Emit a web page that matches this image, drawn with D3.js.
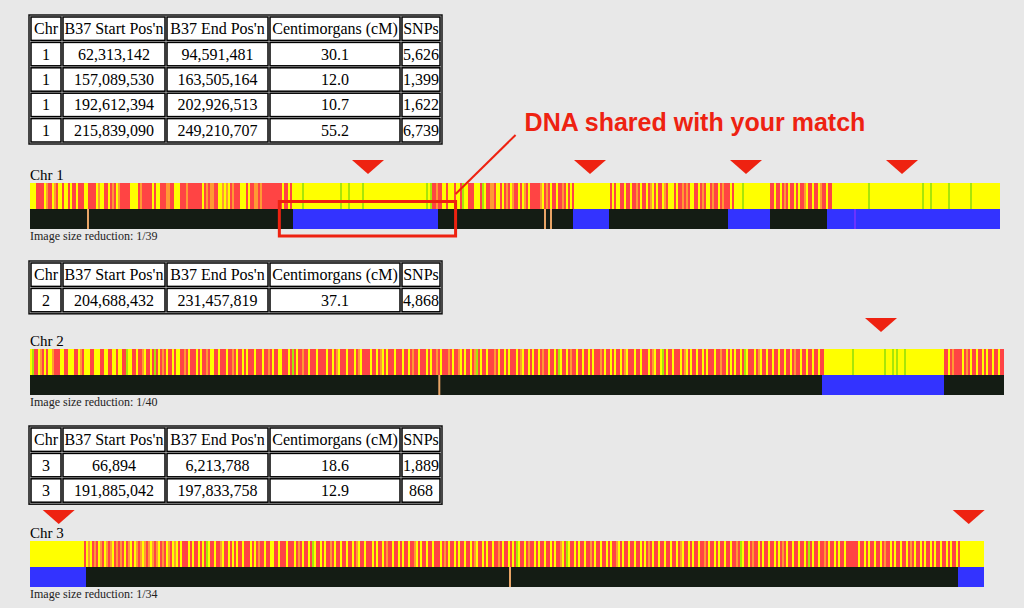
<!DOCTYPE html>
<html>
<head>
<meta charset="utf-8">
<script src="https://cdn.jsdelivr.net/npm/d3@7"></script>
<style>
	body { margin: 0; background: #e8e8e8; }
	svg { display: block; }
</style>
</head>
<body>
<div id="vis"></div>
<script>
// table text
const HEADER = ["Chr", "B37 Start Pos'n", "B37 End Pos'n", "Centimorgans (cM)", "SNPs"];
const CHR1_ROWS = [
	["1", "62,313,142", "94,591,481", "30.1", "5,626"],
	["1", "157,089,530", "163,505,164", "12.0", "1,399"],
	["1", "192,612,394", "202,926,513", "10.7", "1,622"],
	["1", "215,839,090", "249,210,707", "55.2", "6,739"]
];
const CHR2_ROWS = [
	["2", "204,688,432", "231,457,819", "37.1", "4,868"]
];
const CHR3_ROWS = [
	["3", "66,894", "6,213,788", "18.6", "1,889"],
	["3", "191,885,042", "197,833,758", "12.9", "868"]
];

// image size reduction (SNPs per pixel)
const CHR1_REDUCTION = 39;
const CHR2_REDUCTION = 40;
const CHR3_REDUCTION = 34;

// genotype calls, one letter per two pixels
// R = no match, Y = half match, O = partial, G = full match
const CHR1_CALLS = ("YYYRRRRYOR RYORYYRYYR YRRYRRRYYR RRRYOYYRRY RORYORRRRR YYYYRORRRR RYRYYRRROO RRYYYRRROR RRRRRRYROR OORRYYOYOY RORRRYYYRY RROORORRRR RRRRR RYRRYRY" +
	" YYYYGYYYYY YYYYYYYYYY YYYGYYYGYY YYYYGYYYYY YYYYYYYYYY YYYYYYYYYY YYYYYY" +
	" GYGRRORRYY RYYYRYYRGY YRRRYYYRGY RROORYY RYROR YORRY RYORY RRRRR OYRORYR RYRRORYRYR" +
	" YYYYYYYYYY YYYYYYYY" +
	" RYRYYRRYRR YRRORYRRYR OYRYRRYORY YYRYRROROR YYRRYRORYY RORRYRORRR YR" +
	" YYYYGYYYYY YYYYYYYY" +
	" RRYRRYRORY RRYRYRROYR RYRRYORRYR R" +
	" YYYYYYYYYY YYYYYYYYGY YYYYYYYYYY YYYYYYYYYY YYYYYGYYYG YYYYYYYYGY YYYYYYYYYG YYYYYYYYYY YYYY").replace(/ /g, "");

const CHR2_CALLS = ("YGRRYORYRY YORRRYYRRY YYRRYORYYY RRYYYRRYYR RYYRYYRRGY YRRYRROYRR YRGRYRORYR RYRYYRRORY RRRYRYRROR YYRRYRRRYR" +
	" RORYRRYRYR RRYRRRYRRO RYRRYYRRRY RGRYRRORRY RRRYRRRRYR RYROYRRRYR RRYROYRRRR YRRYROYRYR RRYRRRYRRY RORRYRRRYR" +
	" YRRORYRRRO RYRROYRYRR YROGRYRRYR RRORYRRYRY RRRYROYRRY RYRRYRORRY RRYRGYRRYR ORRYRRYRRY RYRRRORYRR YRYRRYROYR" +
	" RRYRRYRRRY ROYRRYGRYR RYRRRYROYR YRRYRRYRYR RRYRRORRYR YRYRRYRGYR RRYROYRRYR RYRRYRRYRR YRORRYRRYR RYRRYRR" +
	" YYYYYYYYYY YYYYGYYYYY YYYYYYYYYY GYYYGYGYYY GYYYYYYYYY YYYYYYYYYY" +
	" RRYRORRRRY RORYRRYRRY RYRRYRRYRR").replace(/ /g, "");

const CHR3_CALLS = ("YYYYYYYYYY YYYYYYYYYY YYYYYYY" +
	" RYOYRORYOR YOROYROROR YROYRYOROY OROYOROYRO RYORYOYRYR RRYRYRRYRY RGYRRYRROY RRYRYRYRRY RRRYRYRORR YRRYYRRYRR" +
	" RYRRRYRORY RRYRGYRRYR YRRORYRRYR RYRRYROYRR YRRRYRYRRY RORRYRRYRY RRYRROYRYR RYRRYRRRYR ORYRRYRYRR YRRYROYRRY" +
	" RYRRYRRORY RRYRYRGYRR YRORRYRYRR YRRYRYRROY RGYRRYRYRR YRRORYRRYR RYRYRROYRY RRYRRYRRYR YRORYRRYRR YRRYRRYROY" +
	" RRYRYRRYRR ORYRRYRYRR YRRYRRORGY RRYRORRYRY RRYRRYRYRO RYRRYRRYRR YRGRYRRYRR ORYRRYRYRR YRRRRRRYRR YRYRRYRRYR" +
	" ORRYRYRRYR RYRORYRRYR YRRYRYRRYR RYRYRRYR" +
	" YYYYYYYYYY YY").replace(/ /g, "");

// first SNP of each shared segment (SNP counts come from the tables)
const CHR1_MATCH_START = [10270, 21177, 27222, 31080];
const CHR2_MATCH_START = [31680];
const CHR3_MATCH_START = [0, 31568];

// no-call marks in the match bar (SNP index)
const CHR1_NOCALLS = [2262, 20085, 20319];
const CHR2_NOCALLS = [16372];
const CHR3_NOCALLS = [16320];
const CHR1_PURPLE = [32175];

// red pointers above the segments (SNP index)
const CHR1_POINTERS = [13182, 21840, 27924, 34008];
const CHR2_POINTERS = [34040];
const CHR3_POINTERS = [976, 31916];

// colours
const CALL_COLORS = {R: "#ff4444", Y: "#ffff00", O: "#ff9a33", G: "#55cc11"};
const MATCH_COLOR = "#3333ff";
const BAR_COLOR = "#141c14";
const NOCALL_COLOR = "#e8a466";
const NOTE_RED = "#ee2211";

// frame
const FRAME_WIDTH = 1024;
const FRAME_HEIGHT = 608;
const BAR_LEFT = 30;
const CALL_H = 26;
const MATCH_H = 20;
const COL_X = [30, 62, 166, 269, 401, 441];
const ROW_H = 25.4;

const SVG = d3.select("#vis")
				.append("svg")
					.attr("width", FRAME_WIDTH)
					.attr("height", FRAME_HEIGHT);

SVG.append("rect")
		.attr("width", FRAME_WIDTH)
		.attr("height", FRAME_HEIGHT)
		.attr("fill", "#e8e8e8");

const CHROMS = [
	{name: "Chr 1", rows: CHR1_ROWS, calls: CHR1_CALLS, reduction: CHR1_REDUCTION, starts: CHR1_MATCH_START,
		nocalls: CHR1_NOCALLS, purple: CHR1_PURPLE, pointers: CHR1_POINTERS, tableTop: 16, barTop: 183, pointerTop: 160},
	{name: "Chr 2", rows: CHR2_ROWS, calls: CHR2_CALLS, reduction: CHR2_REDUCTION, starts: CHR2_MATCH_START,
		nocalls: CHR2_NOCALLS, purple: [], pointers: CHR2_POINTERS, tableTop: 262, barTop: 349, pointerTop: 318},
	{name: "Chr 3", rows: CHR3_ROWS, calls: CHR3_CALLS, reduction: CHR3_REDUCTION, starts: CHR3_MATCH_START,
		nocalls: CHR3_NOCALLS, purple: [], pointers: CHR3_POINTERS, tableTop: 427, barTop: 541, pointerTop: 510}
];

// draw the segment table for one chromosome
function drawTable(top, rows) {
	const all = [HEADER].concat(rows);
	const cells = [];
	all.forEach((row, r) => {
		row.forEach((txt, c) => { cells.push({r: r, c: c, txt: txt}); });
	});

	const G = SVG.append("g");

	G.append("rect")
		.attr("x", COL_X[0] - 1)
		.attr("y", top - 1)
		.attr("width", COL_X[5] - COL_X[0] + 2)
		.attr("height", all.length * ROW_H + 2)
		.attr("fill", "none")
		.attr("stroke", "#111")
		.attr("stroke-width", 1.5);

	G.selectAll("cell")
		.data(cells)
		.enter()
		.append("rect")
			.attr("x", (d) => { return COL_X[d.c] + 1; })
			.attr("y", (d) => { return top + d.r * ROW_H + 1; })
			.attr("width", (d) => { return COL_X[d.c + 1] - COL_X[d.c] - 2; })
			.attr("height", ROW_H - 2)
			.attr("fill", "#ffffff")
			.attr("stroke", "#000")
			.attr("stroke-width", 1.5);

	G.selectAll("celltext")
		.data(cells)
		.enter()
		.append("text")
			.attr("x", (d) => { return (COL_X[d.c] + COL_X[d.c + 1]) / 2; })
			.attr("y", (d) => { return top + d.r * ROW_H + ROW_H / 2 + 5.5; })
			.attr("text-anchor", "middle")
			.attr("font-family", "'Liberation Serif', 'Times New Roman', serif")
			.attr("font-size", "16px")
			.attr("fill", "#000")
			.text((d) => { return d.txt; });
}

// group neighbouring calls of the same kind into one run
function toRuns(calls) {
	const runs = [];
	for (let i = 0; i < calls.length; i++) {
		const last = runs[runs.length - 1];
		if (last && last.call === calls[i]) { last.n++; }
		else { runs.push({call: calls[i], i: i, n: 1}); }
	}
	return runs;
}

// draw one chromosome: table, label, call bar, match bar, pointers
function drawChrom(chr) {
	drawTable(chr.tableTop, chr.rows);

	const STEP = chr.reduction * 2;	// SNPs per call letter
	const TOTAL = chr.calls.length * STEP;
	const X = d3.scaleLinear()
				.domain([0, TOTAL])
				.range([BAR_LEFT, BAR_LEFT + TOTAL / chr.reduction]);

	const snps = chr.rows.map((r) => { return +r[4].replace(/,/g, ""); });
	const matches = chr.starts.map((s, k) => { return {start: s, n: snps[k]}; });

	SVG.append("text")
		.attr("x", BAR_LEFT)
		.attr("y", chr.barTop - 3.5)
		.attr("font-family", "'Liberation Serif', 'Times New Roman', serif")
		.attr("font-size", "15px")
		.attr("fill", "#000")
		.text(chr.name);

	// yellow under everything, then the call stripes on top
	SVG.append("rect")
		.attr("x", X(0))
		.attr("y", chr.barTop)
		.attr("width", X(TOTAL) - X(0))
		.attr("height", CALL_H)
		.attr("fill", CALL_COLORS.Y);

	SVG.append("g")
		.selectAll("runs")
		.data(toRuns(chr.calls).filter((d) => { return d.call !== "Y"; }))
		.enter()
		.append("rect")
			.attr("x", (d) => { return X(d.i * STEP) + (d.call === "G" ? 0.5 : 0); })
			.attr("y", chr.barTop)
			.attr("width", (d) => {
				const w = X((d.i + d.n) * STEP) - X(d.i * STEP);
				return d.call === "G" ? w - 1 : w;
			})
			.attr("height", CALL_H)
			.attr("fill", (d) => { return CALL_COLORS[d.call]; })
			.attr("shape-rendering", (d) => { return d.call === "G" ? "auto" : "crispEdges"; });

	// match bar
	SVG.append("rect")
		.attr("x", X(0))
		.attr("y", chr.barTop + CALL_H)
		.attr("width", X(TOTAL) - X(0))
		.attr("height", MATCH_H)
		.attr("fill", BAR_COLOR)
		.attr("shape-rendering", "crispEdges");

	SVG.append("g")
		.selectAll("matches")
		.data(matches)
		.enter()
		.append("rect")
			.attr("x", (d) => { return X(d.start); })
			.attr("y", chr.barTop + CALL_H)
			.attr("width", (d) => { return X(Math.min(d.start + d.n, TOTAL)) - X(d.start); })
			.attr("height", MATCH_H)
			.attr("fill", MATCH_COLOR)
			.attr("shape-rendering", "crispEdges");

	SVG.append("g")
		.selectAll("nocalls")
		.data(chr.nocalls)
		.enter()
		.append("rect")
			.attr("x", (d) => { return X(d) - 1; })
			.attr("y", chr.barTop + CALL_H)
			.attr("width", 2)
			.attr("height", MATCH_H)
			.attr("fill", NOCALL_COLOR);

	SVG.append("g")
		.selectAll("purple")
		.data(chr.purple)
		.enter()
		.append("rect")
			.attr("x", (d) => { return X(d) - 1; })
			.attr("y", chr.barTop + CALL_H)
			.attr("width", 2)
			.attr("height", MATCH_H)
			.attr("fill", "#6a33ff");

	SVG.append("text")
		.attr("x", BAR_LEFT)
		.attr("y", chr.barTop + CALL_H + MATCH_H + 11)
		.attr("font-family", "'Liberation Serif', 'Times New Roman', serif")
		.attr("font-size", "12px")
		.attr("fill", "#222")
		.text("Image size reduction: 1/" + chr.reduction);

	// pointers
	SVG.append("g")
		.selectAll("pointers")
		.data(chr.pointers)
		.enter()
		.append("path")
			.attr("d", (d) => {
				const x = X(d);
				return "M" + (x - 16) + "," + chr.pointerTop + "L" + (x + 16) + "," + chr.pointerTop +
					"L" + x + "," + (chr.pointerTop + 14) + "Z";
			})
			.attr("fill", NOTE_RED);

	return {X: X, matches: matches};
}

const DRAWN = CHROMS.map(drawChrom);

// callout round the first shared segment of chr 1
const FIRST = DRAWN[0].matches[0];
const BOX_X0 = DRAWN[0].X(FIRST.start) - 14;
const BOX_X1 = DRAWN[0].X(FIRST.start + FIRST.n) + 18;
const TOP1 = CHROMS[0].barTop;

SVG.append("rect")
	.attr("x", BOX_X0)
	.attr("y", TOP1 + 18.5)
	.attr("width", BOX_X1 - BOX_X0)
	.attr("height", 34.5)
	.attr("fill", "none")
	.attr("stroke", NOTE_RED)
	.attr("stroke-width", 3);

SVG.append("line")
	.attr("x1", BOX_X1)
	.attr("y1", TOP1 + 11)
	.attr("x2", BOX_X1 + 60)
	.attr("y2", TOP1 - 48)
	.attr("stroke", NOTE_RED)
	.attr("stroke-width", 2);

SVG.append("text")
	.attr("x", BOX_X1 + 69)
	.attr("y", TOP1 - 52)
	.attr("font-family", "'Liberation Sans', Arial, sans-serif")
	.attr("font-weight", "bold")
	.attr("font-size", "25px")
	.attr("fill", NOTE_RED)
	.text("DNA shared with your match");
</script>
</body>
</html>
